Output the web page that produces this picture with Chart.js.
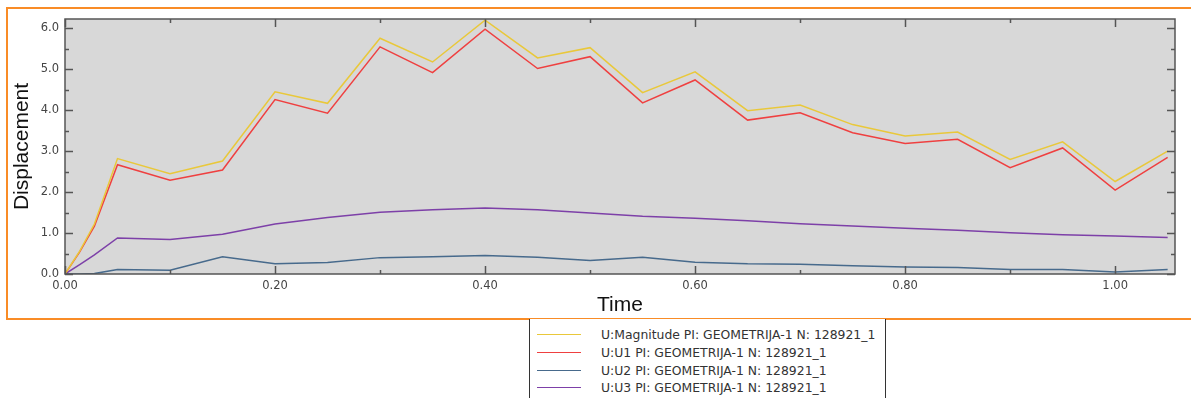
<!DOCTYPE html>
<html>
<head>
<meta charset="utf-8">
<script src="https://cdn.jsdelivr.net/npm/chart.js@4.4.0/dist/chart.umd.min.js"></script>
<style>
body{margin:0;background:#fff;width:1191px;height:398px;overflow:hidden;position:relative;}
#frame{position:absolute;left:6px;top:7px;width:1200px;height:309px;border:2px solid #f98c26;}
#wrap{position:absolute;left:0;top:0;width:1191px;height:320px;}
#legend{position:absolute;left:529px;top:319px;width:355px;height:90px;border:1px solid #333;border-top:none;background:#fff;
  font-family:"DejaVu Sans",Verdana,sans-serif;font-size:12.4px;color:#333;}
.row{position:absolute;left:0;width:355px;height:17px;line-height:17px;}
.row .sample{position:absolute;left:7px;top:8px;width:44px;height:0;border-top:1.5px solid;}
.row .txt{position:absolute;left:71px;top:0;white-space:nowrap;}
</style>
</head>
<body>
<div id="frame"></div>
<div id="wrap"><canvas id="myChart" width="1191" height="320"></canvas></div>
<div id="legend"></div>
<script>
// time values (s)
var times = [0, 0.014, 0.028, 0.05, 0.10, 0.15, 0.20, 0.25, 0.30, 0.35, 0.40, 0.45, 0.50, 0.55, 0.60, 0.65, 0.70, 0.75, 0.80, 0.85, 0.90, 0.95, 1.00, 1.05];
var magnitude = [0, 0.56, 1.22, 2.82, 2.45, 2.76, 4.45, 4.17, 5.76, 5.18, 6.20, 5.28, 5.53, 4.43, 4.94, 3.99, 4.13, 3.65, 3.37, 3.47, 2.80, 3.23, 2.26, 3.00];
var u1 = [0, 0.54, 1.17, 2.67, 2.29, 2.54, 4.26, 3.93, 5.55, 4.92, 5.98, 5.02, 5.31, 4.18, 4.74, 3.76, 3.94, 3.45, 3.19, 3.29, 2.60, 3.08, 2.05, 2.85];
var u2 = [0, 0, 0.01, 0.11, 0.09, 0.42, 0.25, 0.28, 0.40, 0.42, 0.45, 0.41, 0.33, 0.41, 0.29, 0.25, 0.24, 0.20, 0.17, 0.16, 0.11, 0.11, 0.05, 0.11];
var u3 = [0, 0.23, 0.47, 0.88, 0.84, 0.97, 1.22, 1.38, 1.51, 1.57, 1.61, 1.57, 1.49, 1.41, 1.36, 1.30, 1.23, 1.17, 1.12, 1.07, 1.01, 0.96, 0.93, 0.89];

var seriesNames = ["U:Magnitude PI: GEOMETRIJA-1 N: 128921_1", "U:U1 PI: GEOMETRIJA-1 N: 128921_1", "U:U2 PI: GEOMETRIJA-1 N: 128921_1", "U:U3 PI: GEOMETRIJA-1 N: 128921_1"];
var seriesColors = ['#e9c83a', '#ef4040', '#476a8c', '#7d40a8'];

// tick labels / tick positions
var xTickLabels = ['0.00', '0.20', '0.40', '0.60', '0.80', '1.00'];
var yTickLabels = ['0.0', '1.0', '2.0', '3.0', '4.0', '5.0', '6.0'];
var xMinorTicks = [0.1, 0.3, 0.5, 0.7, 0.9];
var yMinorTicks = [0.5, 1.5, 2.5, 3.5, 4.5, 5.5];

function pts(vals){
    var out = [];
    for (var i = 0; i < times.length; i++) {
        out.push({x: times[i], y: vals[i]});
    }
    return out;
}

var allSeries = [magnitude, u1, u2, u3];
var datasets = [];
for (var i = 0; i < allSeries.length; i++) {
    datasets.push({
        label: seriesNames[i],
        data: pts(allSeries[i]),
        borderColor: seriesColors[i],
        backgroundColor: seriesColors[i],
        borderWidth: 1.5,
        pointRadius: 0,
        tension: 0
    });
}

// gray plot area + inward ticks on all four sides
var framePlugin = {
    id: 'frame',
    beforeDatasetsDraw: function(chart){
        var a = chart.chartArea, c = chart.ctx;
        c.save();
        c.fillStyle = '#d8d8d8';
        c.fillRect(a.left, a.top, a.right - a.left, a.bottom - a.top);
        c.restore();
    },
    afterDatasetsDraw: function(chart){
        var a = chart.chartArea, c = chart.ctx;
        var xs = chart.scales.x, ys = chart.scales.y;
        c.save();
        c.strokeStyle = '#555';
        c.lineWidth = 1.5;
        c.strokeRect(a.left, a.top, a.right - a.left, a.bottom - a.top);
        c.beginPath();
        function xt(v, len){
            var p = Math.round(xs.getPixelForValue(v)) + 0.5;
            c.moveTo(p, a.bottom); c.lineTo(p, a.bottom - len);
            c.moveTo(p, a.top); c.lineTo(p, a.top + len);
        }
        function yt(v, len){
            var p = Math.round(ys.getPixelForValue(v)) + 0.5;
            c.moveTo(a.left, p); c.lineTo(a.left + len, p);
            c.moveTo(a.right, p); c.lineTo(a.right - len, p);
        }
        xTickLabels.forEach(function(t){ xt(parseFloat(t), 8); });
        xMinorTicks.forEach(function(v){ xt(v, 4); });
        yTickLabels.forEach(function(t){ yt(parseFloat(t), 8); });
        yMinorTicks.forEach(function(v){ yt(v, 4); });
        c.stroke();
        c.restore();
    }
};

var ctx = document.getElementById('myChart').getContext('2d');
var chart = new Chart(ctx, {
    type: 'line',
    data: { datasets: datasets },
    plugins: [framePlugin],
    options: {
        responsive: false,
        animation: false,
        layout: { padding: { left: 0, right: 16, top: 19, bottom: 0 } },
        plugins: { legend: { display: false }, tooltip: { enabled: false } },
        scales: {
            x: {
                type: 'linear',
                min: 0,
                max: 1.057,
                grid: { display: false, drawTicks: false },
                border: { display: false },
                afterBuildTicks: function(s){
                    s.ticks = xTickLabels.map(function(t){ return {value: parseFloat(t)}; });
                },
                afterFit: function(s){ s.height = 46; },
                ticks: {
                    padding: 5,
                    color: '#444',
                    maxRotation: 0,
                    font: { family: 'DejaVu Sans', size: 11.5 },
                    callback: function(v){ return v.toFixed(2); }
                },
                title: {
                    display: true,
                    text: 'Time',
                    color: '#111',
                    padding: { top: 0, bottom: 2 },
                    font: { family: 'Liberation Sans', size: 21 }
                }
            },
            y: {
                min: 0,
                max: 6.23,
                grid: { display: false, drawTicks: false },
                border: { display: false },
                afterBuildTicks: function(s){
                    s.ticks = yTickLabels.map(function(t){ return {value: parseFloat(t)}; });
                },
                afterFit: function(s){ s.width = 65; },
                ticks: {
                    padding: 6,
                    color: '#444',
                    font: { family: 'DejaVu Sans', size: 11.5 },
                    callback: function(v){ return v.toFixed(1); }
                },
                title: {
                    display: true,
                    text: 'Displacement',
                    color: '#111',
                    padding: { top: 10, bottom: 0 },
                    font: { family: 'Liberation Sans', size: 21 }
                }
            }
        }
    }
});

// legend box built from the chart's datasets
var legend = document.getElementById('legend');
var rowCenters = [15, 33, 51, 68];
chart.data.datasets.forEach(function(ds, i){
    var row = document.createElement('div');
    row.className = 'row';
    row.style.top = (rowCenters[i] - 8.5) + 'px';
    var s = document.createElement('span');
    s.className = 'sample';
    s.style.borderTopColor = ds.borderColor;
    var t = document.createElement('span');
    t.className = 'txt';
    t.textContent = ds.label;
    row.appendChild(s);
    row.appendChild(t);
    legend.appendChild(row);
});
</script>
</body>
</html>
